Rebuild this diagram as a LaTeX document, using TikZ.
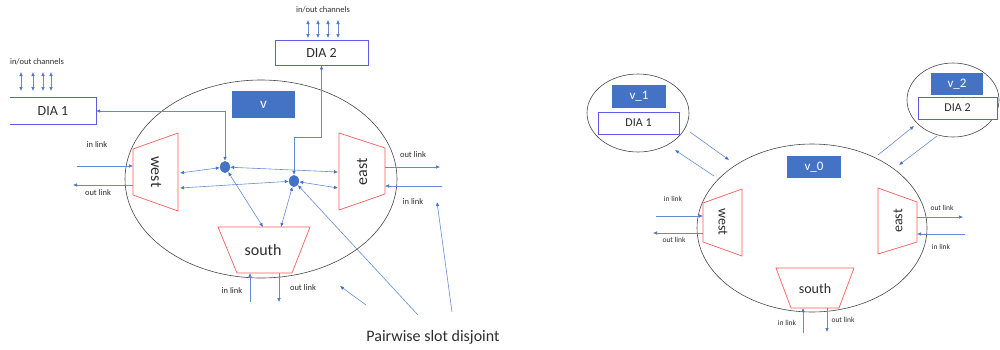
\documentclass[tikz,border=0pt]{standalone}
\usepackage{fontspec}
\setmainfont{Carlito}
\usetikzlibrary{arrows.meta,shapes.geometric}
\definecolor{lnk}{RGB}{100,140,212}
\definecolor{tipc}{RGB}{68,114,196}
\definecolor{vfill}{RGB}{68,114,196}
\definecolor{diae}{RGB}{92,92,230}
\definecolor{trapr}{RGB}{255,92,92}
\definecolor{ellg}{RGB}{70,70,70}
\definecolor{txt}{RGB}{45,45,45}
\begin{document}
\begin{tikzpicture}[x=1pt,y=-1pt,
  lnkline/.style={draw=lnk,line width=0.6pt},
  lnkarrow/.style={lnkline,-{Latex[length=4pt,width=3.6pt,color=tipc]}},
  lnkboth/.style={lnkline,{Latex[length=4pt,width=3.6pt,color=tipc]}-{Latex[length=4pt,width=3.6pt,color=tipc]}},
  vbox/.style={fill=vfill,text=white,inner sep=0pt},
  diabox/.style={draw=diae,fill=white,line width=0.8pt,inner sep=0pt,text=txt},
  trapedge/.style={draw=trapr,line width=0.7pt},
  bigell/.style={draw=ellg,ellipse,line width=0.6pt,inner sep=0pt},
  junction/.style={fill=tipc,ellipse,inner sep=0pt,minimum width=10pt,minimum height=12pt},
  smalllbl/.style={text=txt,inner sep=0pt,font=\fontsize{8.5}{9}\selectfont},
  tinylbl/.style={text=txt,inner sep=0pt,font=\fontsize{7.5}{8}\selectfont},
  portlbl/.style={text=txt,inner sep=0pt,font=\fontsize{16}{18}\selectfont},
  portlblr/.style={text=txt,inner sep=0pt,font=\fontsize{14}{16}\selectfont}
]
\useasboundingbox (0,0) rectangle (1000,349);

%% ================= LEFT DIAGRAM =================
\node[bigell,minimum width=272pt,minimum height=198pt] (nodeL) at (261,179) {};
\node[vbox,minimum width=63pt,minimum height=27pt,font=\fontsize{15}{17}\selectfont] (vL) at (263.5,104.5) {v};

% DIA 2 and channels
\node[diabox,minimum width=93pt,minimum height=25pt,font=\fontsize{14}{16}\selectfont] (dia2) at (321.5,52.5) {DIA 2};
\node[smalllbl] (ch2) at (323,10) {in/out channels};
\foreach \x in {308,318,328,338} \draw[lnkboth] (\x,20) -- (\x,38);

% DIA 1 and channels (left edge cut off)
\node[minimum width=86pt,minimum height=26pt,inner sep=0pt,text=txt,font=\fontsize{14}{16}\selectfont] (dia1) at (53,111) {DIA 1};
\draw[diae,line width=0.8pt] (dia1.north west) -- (dia1.north east) -- (dia1.south east) -- (dia1.south west);
\node[smalllbl] (ch1) at (37,62) {in/out channels};
\foreach \x in {21,33,43,51} \draw[lnkboth] (\x,72) -- (\x,91);

% trapezoids
\coordinate (w1) at (133,149); \coordinate (w2) at (178,133);
\coordinate (w3) at (178,211); \coordinate (w4) at (133,195);
\draw[trapedge] (w1) -- (w2) -- (w3) -- (w4) -- cycle;
\node[portlbl,rotate=-90] (westL) at (156,172) {west};

\coordinate (e1) at (339,133); \coordinate (e2) at (385,148);
\coordinate (e3) at (385,194); \coordinate (e4) at (339,210);
\draw[trapedge] (e1) -- (e2) -- (e3) -- (e4) -- cycle;
\node[portlbl,rotate=90] (eastL) at (362,172) {east};

\coordinate (s1) at (218,227); \coordinate (s2) at (310,227);
\coordinate (s3) at (292,273); \coordinate (s4) at (237,273);
\draw[trapedge] (s1) -- (s2) -- (s3) -- (s4) -- cycle;
\node[portlbl] (southL) at (263,250) {south};

% junctions
\node[junction] (dot1) at (225,167) {};
\node[junction] (dot2) at (294,181) {};

% ports on trapezoids
\coordinate (wA) at (180,173); \coordinate (wB) at (180,188);
\coordinate (eA) at (338,172); \coordinate (eB) at (338,188);
\coordinate (sA) at (263,227); \coordinate (sB) at (281,227);

\draw[lnkboth] (dia1.east) -| (dot1);
\coordinate (bend2) at (294,137);
\draw[lnkboth] (dia2.south) |- (bend2) -- (dot2);
\draw[lnkboth] (wA) -- (dot1);
\draw[lnkboth] (dot1) -- (eA);
\draw[lnkboth] (wB) -- (dot2);
\draw[lnkboth] (dot2) -- (eB);
\draw[lnkboth] (dot1) -- (sA);
\draw[lnkboth] (dot2) -- (sB);

% external links
\coordinate (wInS) at (77,166);  \coordinate (wInE) at (133,166);
\coordinate (wOutS) at (133,185); \coordinate (wOutE) at (73,185);
\draw[lnkarrow] (wInS) -- (wInE);
\draw[lnkarrow] (wOutS) -- (wOutE);
\node[smalllbl] (lwin) at (97,145) {in link};
\node[smalllbl] (lwout) at (98,193) {out link};

\coordinate (eOutS) at (385,167); \coordinate (eOutE) at (440,167);
\coordinate (eInS) at (442,186);  \coordinate (eInE) at (385,186);
\draw[lnkarrow] (eOutS) -- (eOutE);
\draw[lnkarrow] (eInS) -- (eInE);
\node[smalllbl] (leout) at (413,155) {out link};
\node[smalllbl] (lein) at (413,202) {in link};

\coordinate (sInS) at (250,302);  \coordinate (sInE) at (250,273);
\coordinate (sOutS) at (279,273); \coordinate (sOutE) at (279,302);
\draw[lnkarrow] (sInS) -- (sInE);
\draw[lnkarrow] (sOutS) -- (sOutE);
\node[smalllbl] (lsin) at (232,291) {in link};
\node[smalllbl] (lsout) at (303,288) {out link};

% pairwise slot disjoint
\node[text=txt,inner sep=0pt,font=\fontsize{16}{18}\selectfont] (psd) at (433,337) {Pairwise slot disjoint};
\coordinate (pA) at (418,315);
\coordinate (pB) at (452,312); \coordinate (pBe) at (437,202);
\coordinate (pC) at (366,305); \coordinate (pCe) at (340,286);
\draw[lnkarrow] (pA) -- (dot2);
\draw[lnkarrow] (pB) -- (pBe);
\draw[lnkarrow] (pC) -- (pCe);

%% ================= RIGHT DIAGRAM =================
\node[bigell,minimum width=230pt,minimum height=168pt] (v0) at (812,228) {};
\node[vbox,minimum width=54pt,minimum height=22pt,font=\fontsize{13}{15}\selectfont] (v0box) at (814,167) {v\_0};

\node[bigell,minimum width=102pt,minimum height=78pt] (v1) at (638,113) {};
\node[vbox,minimum width=54pt,minimum height=23pt,font=\fontsize{13}{15}\selectfont] (v1box) at (639,96.5) {v\_1};
\node[diabox,minimum width=81pt,minimum height=22pt,font=\fontsize{12}{14}\selectfont] (dia1r) at (638.5,123) {DIA 1};

\node[bigell,minimum width=92pt,minimum height=74pt] (v2) at (953,100) {};
\node[vbox,minimum width=52pt,minimum height=22pt,font=\fontsize{13}{15}\selectfont] (v2box) at (957,84) {v\_2};
\node[diabox,minimum width=79pt,minimum height=22pt,font=\fontsize{12}{14}\selectfont] (dia2r) at (957.5,108) {DIA 2};

\coordinate (a1s) at (690,132); \coordinate (a1e) at (729,160);
\coordinate (a2s) at (714,176); \coordinate (a2e) at (675,150);
\coordinate (a3s) at (878,155); \coordinate (a3e) at (914,126);
\coordinate (a4s) at (937,136); \coordinate (a4e) at (899,165);
\draw[lnkarrow] (a1s) -- (a1e);
\draw[lnkarrow] (a2s) -- (a2e);
\draw[lnkarrow] (a3s) -- (a3e);
\draw[lnkarrow] (a4s) -- (a4e);

\coordinate (rw1) at (703,203); \coordinate (rw2) at (742,189);
\coordinate (rw3) at (742,256); \coordinate (rw4) at (703,242);
\draw[trapedge] (rw1) -- (rw2) -- (rw3) -- (rw4) -- cycle;
\node[portlblr,rotate=-90] (westR) at (723,222) {west};

\coordinate (re1) at (878,188); \coordinate (re2) at (917,202);
\coordinate (re3) at (917,242); \coordinate (re4) at (878,254);
\draw[trapedge] (re1) -- (re2) -- (re3) -- (re4) -- cycle;
\node[portlblr,rotate=90] (eastR) at (898,221) {east};

\coordinate (rs1) at (776,268); \coordinate (rs2) at (854,268);
\coordinate (rs3) at (839,308); \coordinate (rs4) at (791,308);
\draw[trapedge] (rs1) -- (rs2) -- (rs3) -- (rs4) -- cycle;
\node[portlblr] (southR) at (815,289) {south};

\coordinate (rwInS) at (656,216);  \coordinate (rwInE) at (703,216);
\coordinate (rwOutS) at (703,233); \coordinate (rwOutE) at (653,233);
\draw[lnkarrow] (rwInS) -- (rwInE);
\draw[lnkarrow] (rwOutS) -- (rwOutE);
\node[tinylbl] (rlwin) at (673,199) {in link};
\node[tinylbl] (rlwout) at (674,240) {out link};

\coordinate (reOutS) at (917,217); \coordinate (reOutE) at (963,217);
\coordinate (reInS) at (965,234);  \coordinate (reInE) at (917,234);
\draw[lnkarrow] (reOutS) -- (reOutE);
\draw[lnkarrow] (reInS) -- (reInE);
\node[tinylbl] (rleout) at (942,208) {out link};
\node[tinylbl] (rlein) at (941,247) {in link};

\coordinate (rsInS) at (803,333);  \coordinate (rsInE) at (803,308);
\coordinate (rsOutS) at (827,308); \coordinate (rsOutE) at (827,332);
\draw[lnkarrow] (rsInS) -- (rsInE);
\draw[lnkarrow] (rsOutS) -- (rsOutE);
\node[tinylbl] (rlsin) at (787,323) {in link};
\node[tinylbl] (rlsout) at (843,320) {out link};
\end{tikzpicture}
\end{document}
